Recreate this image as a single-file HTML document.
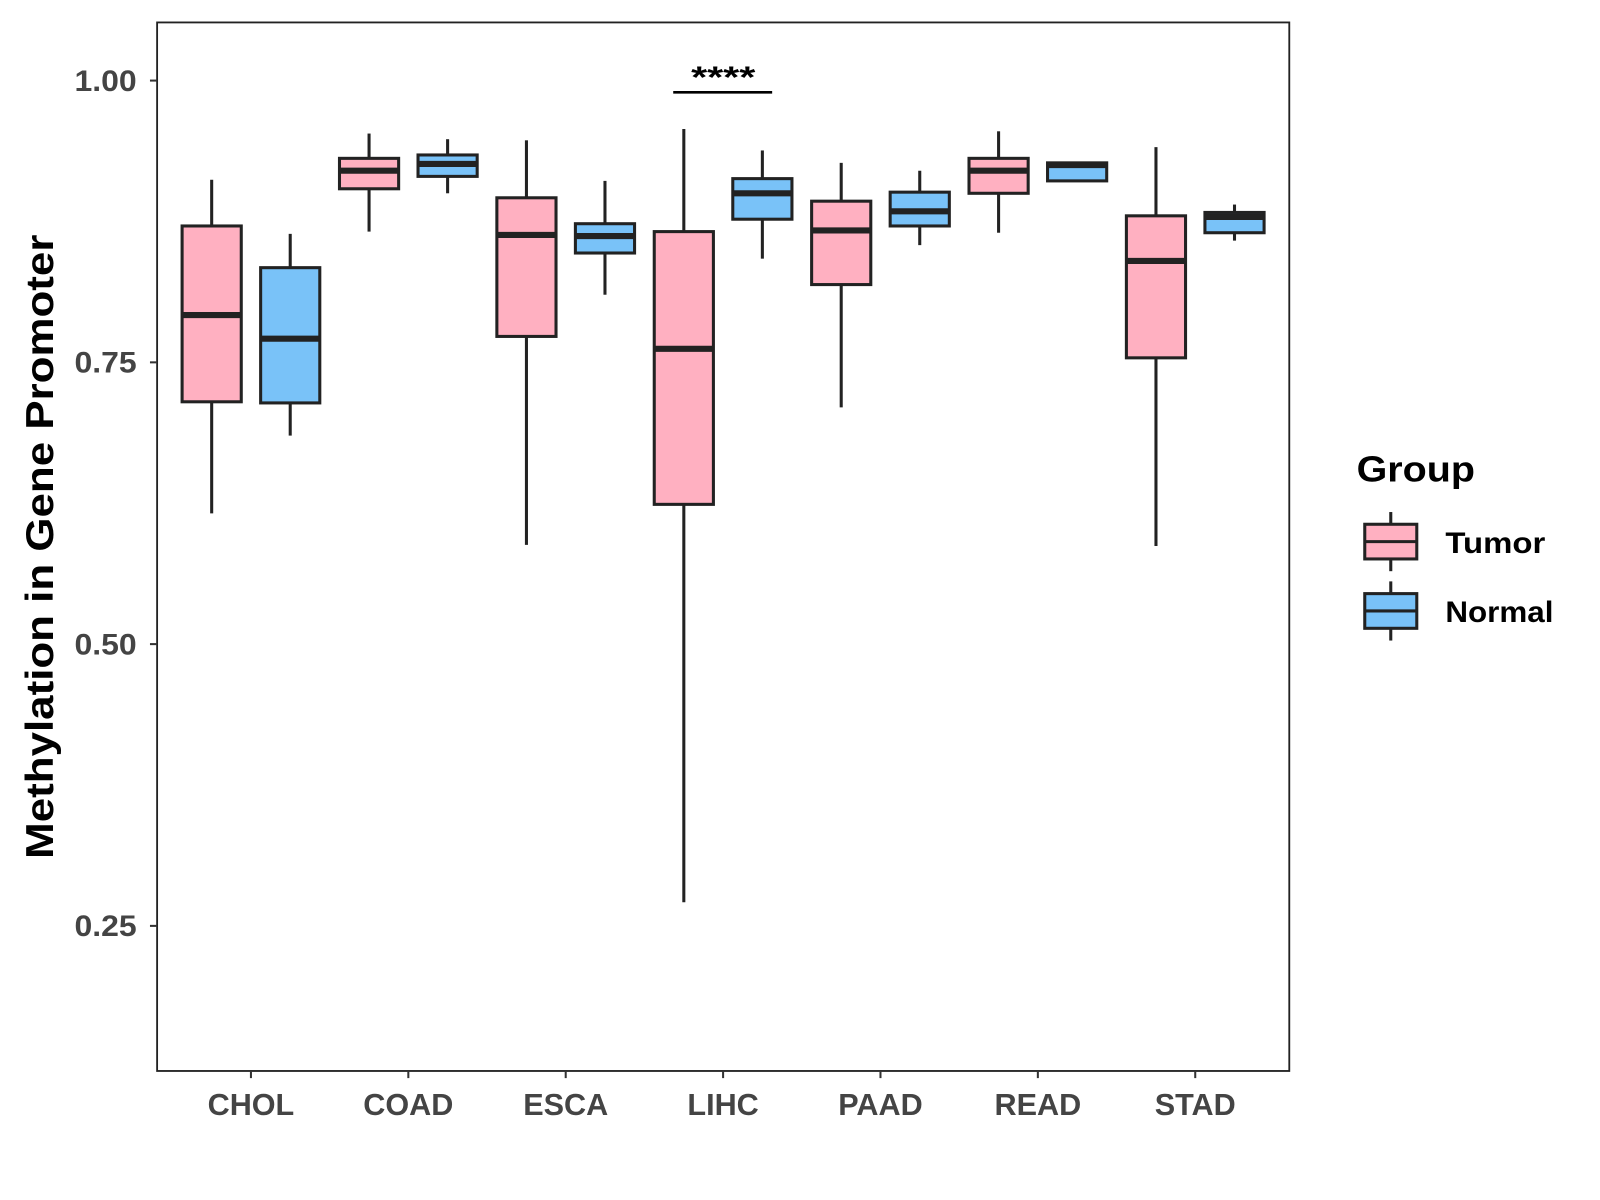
<!DOCTYPE html>
<html><head><meta charset="utf-8"><style>
html,body{margin:0;padding:0;background:#fff;}
svg{display:block;font-family:"Liberation Sans",Arial,sans-serif;font-weight:bold;}
</style></head><body>
<svg id="chart" width="1600" height="1200" viewBox="0 0 1568.6 1176.5" xmlns="http://www.w3.org/2000/svg">
<rect x="154" y="22" width="1110" height="1028" fill="#fff" stroke="#222" stroke-width="1.8"/>
<g id="marks"></g>
<text transform="translate(52,536) rotate(-90)" text-anchor="middle" font-size="38" textLength="612" lengthAdjust="spacingAndGlyphs" fill="#000">Methylation in Gene Promoter</text>
<g>
<line x1="660" y1="90.5" x2="757" y2="90.5" stroke="#000" stroke-width="2.5"/>
<text x="709" y="86" text-anchor="middle" font-size="30" textLength="63" lengthAdjust="spacingAndGlyphs" fill="#000">****</text>
</g>
<g>
<text x="1330" y="472" font-size="35" textLength="116" lengthAdjust="spacingAndGlyphs" fill="#000">Group</text>
<g>
<line x1="1363.5" y1="502" x2="1363.5" y2="560" stroke="#222" stroke-width="3"/>
<rect x="1338" y="514" width="51" height="34" fill="#FFB0C1" stroke="#222" stroke-width="3"/>
<line x1="1338" y1="531" x2="1389" y2="531" stroke="#222" stroke-width="3"/>
<text x="1417" y="542" font-size="29" textLength="98" lengthAdjust="spacingAndGlyphs" fill="#000">Tumor</text>
</g>
<g>
<line x1="1363.5" y1="570" x2="1363.5" y2="628" stroke="#222" stroke-width="3"/>
<rect x="1338" y="582" width="51" height="34" fill="#79C2F8" stroke="#222" stroke-width="3"/>
<line x1="1338" y1="599" x2="1389" y2="599" stroke="#222" stroke-width="3"/>
<text x="1417" y="610" font-size="29" textLength="106" lengthAdjust="spacingAndGlyphs" fill="#000">Normal</text>
</g>
</g>
</svg>
<script>
const categories = ["CHOL","COAD","ESCA","LIHC","PAAD","READ","STAD"];
const yTicks = [0.25,0.50,0.75,1.00];
const yTickLabels = ["0.25","0.50","0.75","1.00"];
// [whiskerLow, q1, median, q3, whiskerHigh]
const tumorStats = [
 [0.616,0.715,0.792,0.871,0.912],
 [0.866,0.904,0.920,0.931,0.953],
 [0.588,0.773,0.863,0.896,0.947],
 [0.271,0.624,0.762,0.866,0.957],
 [0.710,0.819,0.867,0.893,0.927],
 [0.865,0.900,0.920,0.931,0.955],
 [0.587,0.754,0.840,0.880,0.941]
];
const normalStats = [
 [0.685,0.714,0.771,0.834,0.864],
 [0.900,0.915,0.926,0.934,0.948],
 [0.810,0.847,0.862,0.873,0.911],
 [0.842,0.877,0.900,0.913,0.938],
 [0.854,0.871,0.884,0.901,0.920],
 [0.910,0.911,0.925,0.927,0.928],
 [0.858,0.865,0.879,0.883,0.890]
];
const NS="http://www.w3.org/2000/svg";
const svg=document.getElementById("marks");
function y(v){return 79+(1-v)*1105;}
function x(i){return 246+i*154.3;}
function mk(t,a,p){const e=document.createElementNS(NS,t);for(const k in a)e.setAttribute(k,a[k]);(p||svg).appendChild(e);return e;}
yTicks.forEach((v,i)=>{
 const g=mk("g",{});
 
 
 mk("line",{x1:147,x2:154,y1:y(v),y2:y(v),stroke:"#333","stroke-width":2},g);
 const t=mk("text",{x:134,y:y(v)+10,"text-anchor":"end","font-size":29,textLength:61,lengthAdjust:"spacingAndGlyphs",fill:"#444"},g);
 t.textContent=yTickLabels[i];
});
categories.forEach((c,i)=>{
 const g=mk("g",{});
 
 
 mk("line",{x1:x(i),x2:x(i),y1:1050,y2:1057,stroke:"#333","stroke-width":2},g);
 const t=mk("text",{x:x(i),y:1093,"text-anchor":"middle","font-size":30,fill:"#444"},g);
 t.textContent=c;
});
function box(s,cx,fill,name){
 const g=mk("g",{});
 
 
 const w=58;
 mk("line",{x1:cx,x2:cx,y1:y(s[4]),y2:y(s[3]),stroke:"#222","stroke-width":3},g);
 mk("line",{x1:cx,x2:cx,y1:y(s[1]),y2:y(s[0]),stroke:"#222","stroke-width":3},g);
 mk("rect",{x:cx-w/2,y:y(s[3]),width:w,height:Math.max(0.5,y(s[1])-y(s[3])),fill:fill,stroke:"#222","stroke-width":3},g);
 mk("line",{x1:cx-w/2,x2:cx+w/2,y1:y(s[2]),y2:y(s[2]),stroke:"#222","stroke-width":6},g);
}
categories.forEach((c,i)=>{
 box(tumorStats[i],x(i)-38.5,"#FFB0C1","box-tumor-"+c.toLowerCase());
 box(normalStats[i],x(i)+38.5,"#79C2F8","box-normal-"+c.toLowerCase());
});
</script>
</body></html>
